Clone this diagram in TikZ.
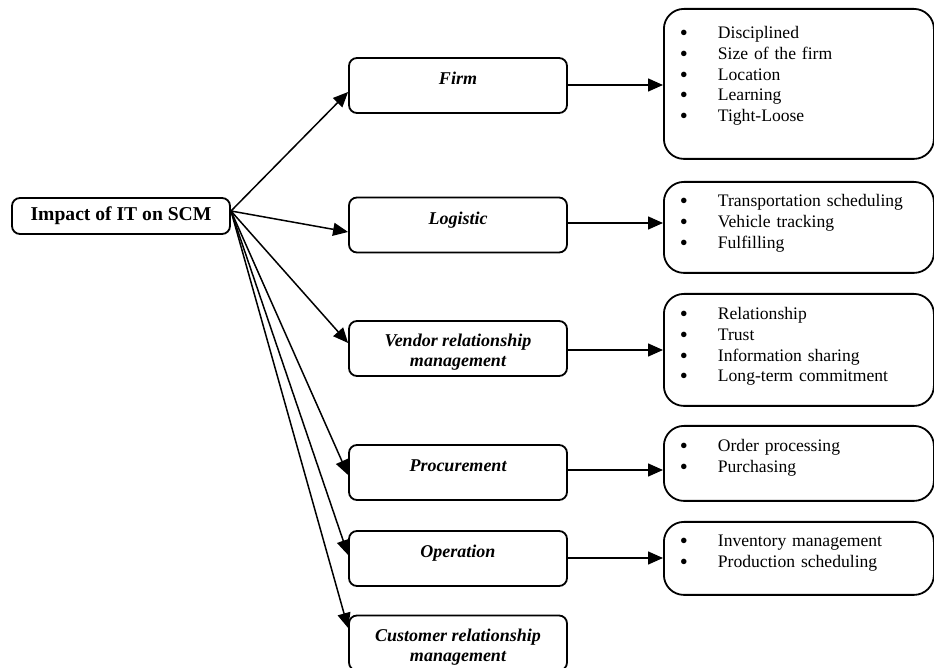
\documentclass[tikz,border=0pt]{standalone}
\usepackage{fontspec}
\usepackage{graphicx}
\setmainfont{Liberation Serif}
\usetikzlibrary{arrows.meta}
\newcommand{\pto}[1]{\makebox[19pt][l]{\raisebox{-0.9pt}{\scalebox{1.3}{\textbullet}}}#1}
\tikzset{%
    >={Triangle[width=6.5pt,length=7.5pt]},
    raiz/.style   = {rectangle, rounded corners=4pt, draw=black, line width=0.9pt,
                     minimum width=109pt, minimum height=18pt,
                     text centered, font=\fontsize{9.8}{11}\selectfont\bfseries},
    fator/.style  = {rectangle, rounded corners=4pt, draw=black, line width=0.9pt,
                     minimum width=109pt, inner ysep=4pt,
                     text height=9.5pt, text depth=10pt, align=center,
                     font=\fontsize{9}{10}\selectfont\bfseries\itshape},
    duplo/.style  = {text height=19pt, text depth=0.5pt},
    lista/.style  = {rectangle, rounded corners=10pt, draw=black, line width=0.9pt,
                     anchor=north west, minimum width=135pt, text width=119pt,
                     inner xsep=8pt, inner ysep=4pt, align=left,
                     font=\fontsize{8.8}{10.35}\selectfont},
    seta/.style   = {->, line width=0.75pt},
}
\begin{document}
\begin{tikzpicture}[x=0.5pt, y=-0.5pt]
    \useasboundingbox (0,0) rectangle (934,668);

    % raiz e fatores
    \node (impacto)   [raiz]  at (121,216)   {Impact of IT on SCM};
    \node (firm)      [fator] at (458,85.5)  {Firm};
    \node (logistic)  [fator] at (458,225)   {Logistic};
    \node (vendor)    [fator, duplo] at (458,348.5) {Vendor relationship\\management};
    \node (procure)   [fator] at (458,472.5) {Procurement};
    \node (operation) [fator] at (458,558.5) {Operation};
    \node (customer)  [fator, duplo] at (458,643)   {Customer relationship\\management};

    % listas
    \node (firmlst) [lista, text height=11pt, text depth=56pt] at (663,8)
        {\pto{Disciplined}\\\pto{Size of the firm}\\\pto{Location}\\\pto{Learning}\\\pto{Tight-Loose}};
    \node (loglst)  [lista, text height=8.5pt, text depth=29pt] at (663,181)
        {\pto{Transportation scheduling}\\\pto{Vehicle tracking}\\\pto{Fulfilling}};
    \node (vendlst) [lista, text height=9pt, text depth=39pt] at (663,293)
        {\pto{Relationship}\\\pto{Trust}\\\pto{Information sharing}\\\pto{Long-term commitment}};
    \node (proclst) [lista, text height=9pt, text depth=20.5pt] at (663,425)
        {\pto{Order processing}\\\pto{Purchasing}};
    \node (operlst) [lista, text height=8.5pt, text depth=20pt] at (663,521)
        {\pto{Inventory management}\\\pto{Production scheduling}};

    \coordinate (origem) at (231,211);

    \draw[seta] (origem) -- ([yshift=-3.25pt]firm.west);
    \draw[seta] (origem) -- ([yshift=-3.5pt]logistic.west);
    \draw[seta] (origem) -- ([yshift=2.75pt]vendor.west);
    \draw[seta] (origem) -- ([yshift=-1.25pt]procure.west);
    \draw[seta] (origem) -- ([yshift=1.75pt]operation.west);
    \draw[seta] (origem) -- ([yshift=7.5pt]customer.west);

    \draw[seta] ([yshift=0.25pt]firm.east) -- ([yshift=0.25pt]firm.east -| firmlst.west);
    \draw[seta] ([yshift=1pt]logistic.east) -- ([yshift=1pt]logistic.east -| loglst.west);
    \draw[seta] ([yshift=-0.75pt]vendor.east) -- ([yshift=-0.75pt]vendor.east -| vendlst.west);
    \draw[seta] ([yshift=1.25pt]procure.east) -- ([yshift=1.25pt]procure.east -| proclst.west);
    \draw[seta] ([yshift=0.25pt]operation.east) -- ([yshift=0.25pt]operation.east -| operlst.west);
\end{tikzpicture}
\end{document}
